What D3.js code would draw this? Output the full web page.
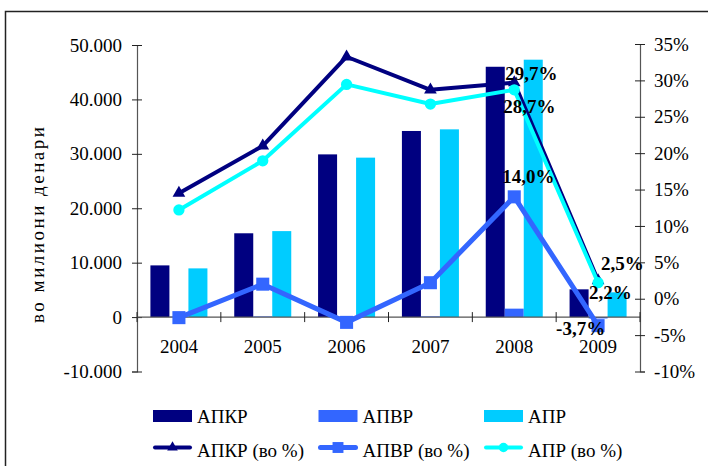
<!DOCTYPE html>
<html>
<head>
<meta charset="utf-8">
<script src="https://cdn.jsdelivr.net/npm/d3@7"></script>
<style>
  body { margin: 0; background: #fff; }
  svg { display: block; }
  svg text { font-family: "Liberation Serif", "Times New Roman", "DejaVu Serif", serif; }
</style>
</head>
<body>
<svg id="chart" width="708" height="466"></svg>
<script>
// data
const years = ["2004", "2005", "2006", "2007", "2008", "2009"]
const barNames = ["АПКР", "АПВР", "АПР"]
const lineNames = ["АПКР (во %)", "АПВР (во %)", "АПР (во %)"]
// amounts, million denars
const apkr = [9500, 15400, 29900, 34200, 46000, 5100]
const apvr = [100, 120, -100, 130, 1550, -250]
const apr = [8950, 15800, 29300, 34500, 47300, 4550]
// growth, %
const apkrPct = [14.5, 21.0, 33.25, 28.7, 29.7, 2.5]
const apvrPct = [-2.6, 2.0, -3.25, 2.2, 14.0, -3.7]
const aprPct = [12.2, 18.95, 29.45, 26.75, 28.7, 2.2]
const leftTicks = [-10000, 0, 10000, 20000, 30000, 40000, 50000]
const rightTicks = [-10, -5, 0, 5, 10, 15, 20, 25, 30, 35]
const yTitle = "во милиони денари"

const colors = {navy: "#000080", blue: "#3366FF", cyanBar: "#00CCFF", cyanLine: "#00FFFF"}
const serif = "'Liberation Serif', 'Times New Roman', serif"

const svg = d3.select("#chart")
const left = 137, right = 640

//frame
svg.append("rect")
    .attr("x", 5.5).attr("y", 11.5)
    .attr("width", 720).attr("height", 480)
    .attr("fill", "none").attr("stroke", "#222").attr("stroke-width", 1.5)

//scales
const x = d3.scaleBand().domain(years).range([left, right])
const xSub = d3.scaleBand().domain(barNames)
    .range([x.bandwidth() * 0.16, x.bandwidth() * 0.84])
const yL = d3.scaleLinear().domain([-10000, 50000]).range([371.5, 45])
const yR = d3.scaleLinear().domain([-10, 35]).range([371.5, 44])

const loc = d3.formatLocale({decimal: ",", thousands: ".", grouping: [3], currency: ["", ""], minus: "-"})
const fmtL = loc.format(",")
const fmtP = loc.format(".1f")

//bars
const barData = [apkr, apvr, apr]
const barColors = [colors.navy, colors.blue, colors.cyanBar]
barNames.forEach((name, i) => {
    svg.append("g").selectAll("rect")
        .data(years.map((yr, j) => ({yr, v: barData[i][j]})))
        .enter().append("rect")
        .attr("x", d => x(d.yr) + xSub(name))
        .attr("width", xSub.bandwidth())
        .attr("y", d => yL(Math.max(0, d.v)))
        .attr("height", d => Math.abs(yL(d.v) - yL(0)))
        .attr("fill", barColors[i])
})

//left axis
const axL = svg.append("g").attr("transform", `translate(${left},0)`)
    .call(d3.axisLeft(yL).tickValues(leftTicks).tickFormat(fmtL).tickSize(5))
    .attr("font-family", serif).attr("font-size", 19)
axL.select(".domain").attr("stroke", "#555").attr("stroke-width", 1.2)
axL.selectAll(".tick line").attr("x1", 5).attr("x2", -5).attr("stroke", "#222")
axL.selectAll(".tick text").attr("x", -15).attr("fill", "#000")

//right axis
const axR = svg.append("g").attr("transform", `translate(${right},0)`)
    .call(d3.axisRight(yR).tickValues(rightTicks).tickFormat(d => d + "%").tickSize(5))
    .attr("font-family", serif).attr("font-size", 19)
axR.select(".domain").attr("stroke", "#555").attr("stroke-width", 1.2)
axR.selectAll(".tick line").attr("x1", -5).attr("x2", 5).attr("stroke", "#222")
axR.selectAll(".tick text").attr("x", 14).attr("fill", "#000")

//category axis at zero
const y0 = yL(0)
svg.append("line")
    .attr("x1", left).attr("x2", right).attr("y1", y0).attr("y2", y0)
    .attr("stroke", "#555").attr("stroke-width", 1.2)
const bounds = years.map(yr => x(yr)).concat([right])
svg.append("g").selectAll("line").data(bounds).enter().append("line")
    .attr("x1", d => d).attr("x2", d => d)
    .attr("y1", y0 - 5).attr("y2", y0 + 5)
    .attr("stroke", "#222")
svg.append("g").selectAll("text").data(years).enter().append("text")
    .attr("x", d => x(d) + x.bandwidth() / 2)
    .attr("y", y0 + 36)
    .attr("text-anchor", "middle")
    .attr("font-size", 19)
    .text(d => d)

//y title
svg.append("text")
    .attr("transform", `translate(44,225) rotate(-90)`)
    .attr("text-anchor", "middle")
    .attr("font-size", 19)
    .attr("textLength", 196)
    .text(yTitle)

//lines
const cx = yr => x(yr) + x.bandwidth() / 2
const lineData = [apkrPct, apvrPct, aprPct]
const lineColors = [colors.navy, colors.blue, colors.cyanLine]
const lineWidths = [4, 5, 4]
const symbols = [d3.symbolTriangle, d3.symbolSquare, d3.symbolCircle]
const symSizes = [70, 170, 100]
const line = d3.line().x(d => cx(d.yr)).y(d => yR(d.v))

lineNames.forEach((name, i) => {
    const pts = years.map((yr, j) => ({yr, v: lineData[i][j]}))
    svg.append("path")
        .datum(pts)
        .attr("d", line)
        .attr("fill", "none")
        .attr("stroke", lineColors[i])
        .attr("stroke-width", lineWidths[i])
        .attr("stroke-linejoin", "round")
    svg.append("g").selectAll("path").data(pts).enter().append("path")
        .attr("transform", d => `translate(${cx(d.yr)},${yR(d.v)})`)
        .attr("d", d3.symbol().type(symbols[i]).size(symSizes[i]))
        .attr("fill", lineColors[i])
})

//data labels (series index, year, offset from the marker)
const labels = [
    {s: 0, yr: "2008", dx: -9, dy: -3},
    {s: 2, yr: "2008", dx: -11, dy: 23},
    {s: 1, yr: "2008", dx: -12, dy: -14},
    {s: 0, yr: "2009", dx: 3, dy: -11},
    {s: 2, yr: "2009", dx: -9, dy: 16},
    {s: 1, yr: "2009", dx: -42, dy: 9}
]
svg.append("g").selectAll("text").data(labels).enter().append("text")
    .attr("x", d => cx(d.yr) + d.dx)
    .attr("y", d => yR(lineData[d.s][years.indexOf(d.yr)]) + d.dy)
    .attr("font-size", 19)
    .attr("font-weight", "bold")
    .text(d => fmtP(lineData[d.s][years.indexOf(d.yr)]) + "%")

//legend
const legX = [153, 318.5, 484]
const leg = svg.append("g")
barNames.forEach((name, i) => {
    leg.append("rect").attr("x", legX[i]).attr("y", 410)
        .attr("width", 39).attr("height", 12).attr("fill", barColors[i])
    leg.append("text").attr("x", legX[i] + 44).attr("y", 422.5)
        .attr("font-size", 19).text(name)
})
lineNames.forEach((name, i) => {
    leg.append("line").attr("x1", legX[i] + 2).attr("x2", legX[i] + 37)
        .attr("y1", 447.5).attr("y2", 447.5)
        .attr("stroke", lineColors[i]).attr("stroke-width", lineWidths[i])
        .attr("stroke-linecap", "round")
    leg.append("path")
        .attr("transform", `translate(${legX[i] + 19.5},447.5)`)
        .attr("d", d3.symbol().type(symbols[i]).size(symSizes[i] * 0.7))
        .attr("fill", lineColors[i])
    leg.append("text").attr("x", legX[i] + 44).attr("y", 456.5)
        .attr("font-size", 19).text(name)
})

//make sure every label is in the serif face
svg.selectAll("text").attr("font-family", serif)
</script>
</body>
</html>
